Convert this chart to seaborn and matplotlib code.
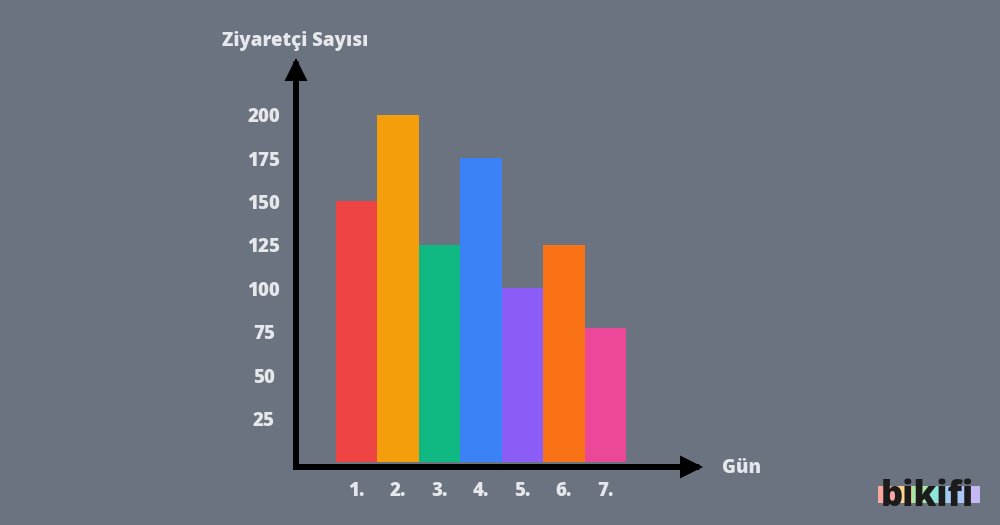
import matplotlib
matplotlib.use("Agg")
import matplotlib.pyplot as plt
import seaborn as sns
import pandas as pd
from matplotlib.patches import Rectangle

# chart data
days = ["1.", "2.", "3.", "4.", "5.", "6.", "7."]
visitors = [150, 200, 125, 175, 100, 125, 77]
bar_colors = ["#ef4444", "#f59e0b", "#10b981", "#3b82f6", "#8b5cf6", "#f97316", "#ec4899"]
y_ticks = [25, 50, 75, 100, 125, 150, 175, 200]
y_title = "Ziyaretçi Sayısı"
x_title = "Gün"
logo_text = "bikifi"
logo_colors = ["#f9a8a0", "#fcd48a", "#a8e6a3", "#8fe3d6", "#a5c8f5", "#c4b8f5"]

bg = "#6b7280"
txt = "#e5e7eb"

sns.set_theme(style="white")
plt.rcParams["font.family"] = ["Open Sans", "DejaVu Sans"]

df = pd.DataFrame({"day": days, "visitors": visitors})

fig = plt.figure(figsize=(10, 5.25), dpi=100, facecolor=bg)
# axes box: left at vertical axis line, bottom at horizontal axis line
ax = fig.add_axes([0.296, (525 - 467) / 525, 0.703 - 0.296, (467 - 58) / 525])
ax.set_facecolor(bg)

sns.barplot(data=df, x="day", y="visitors", hue="day", palette=bar_colors,
            legend=False, width=1.0, saturation=1, ax=ax, edgecolor="none")

ax.set_xlim(-1.4655, 8.3586)
ax.set_ylim(-2.9, 232.6)
for s in ax.spines.values():
    s.set_visible(False)

ax.set_yticks(y_ticks)
ax.set_yticklabels([str(v) for v in y_ticks], ha="center")
ax.tick_params(axis="y", length=0, pad=23, labelsize=13.5, labelcolor=txt)
ax.tick_params(axis="x", length=0, pad=10, labelsize=13.5, labelcolor=txt)
for lab in ax.get_xticklabels() + ax.get_yticklabels():
    lab.set_fontweight("heavy")
ax.set_xlabel("")
ax.set_ylabel("")

# arrow axes
arrow = dict(arrowstyle="-|>,head_length=0.8,head_width=0.4", lw=4.3,
             color="black", shrinkA=0, shrinkB=0, joinstyle="miter",
             capstyle="projecting")
ax.annotate("", xy=(1, 0), xytext=(0, 0), xycoords="axes fraction",
            arrowprops=arrow, annotation_clip=False)
ax.annotate("", xy=(0, 1), xytext=(0, 0), xycoords="axes fraction",
            arrowprops=arrow, annotation_clip=False)

fig.text(0.295, 1 - 41 / 525, y_title, ha="center", va="center",
         fontsize=13.5, fontweight="heavy", color=txt)
fig.text(0.722, 1 - 468 / 525, x_title, ha="left", va="center",
         fontsize=13.5, fontweight="heavy", color=txt)

# logo
seg = (980 - 878) / len(logo_colors)
for i, c in enumerate(logo_colors):
    fig.patches.append(Rectangle(((878 + i * seg) / 1000, 1 - 503 / 525), seg / 1000, 17 / 525,
                                 transform=fig.transFigure, facecolor=c, edgecolor="none"))
fig.text(0.927, 1 - 497 / 525, logo_text, ha="center", va="center",
         fontsize=25, fontweight="heavy", color="#1c1c1c")

fig.savefig("out.png", dpi=100, facecolor=bg)
